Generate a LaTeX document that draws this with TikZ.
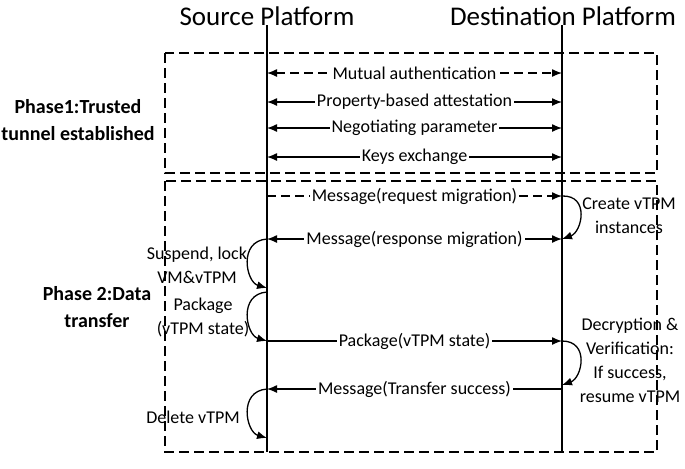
\documentclass[tikz,border=0pt]{standalone}
\usepackage{fontspec}
\setmainfont{Carlito}
\usetikzlibrary{arrows.meta}

\begin{document}
\begin{tikzpicture}[x=0.5pt, y=-0.5pt,
    lifeline/.style = {line width=1pt},
    msg/.style = {line width=0.65pt, -{Latex[length=5pt, width=4pt]}},
    twoway/.style = {msg, {Latex[length=5pt, width=4pt]}-{Latex[length=5pt, width=4pt]}},
    dashmsg/.style = {dash pattern=on 4.5pt off 2.5pt},
    lbl/.style = {fill=white, inner sep=1pt, font=\fontsize{9}{11}\selectfont},
    phasebox/.style = {line width=0.65pt, dash pattern=on 5pt off 2.5pt},
    title/.style = {anchor=base, font=\fontsize{13.5}{16}\selectfont},
    note/.style = {align=center, font=\fontsize{9}{12}\selectfont},
    phase/.style = {align=center, font=\fontsize{10}{13.5}\selectfont\bfseries}]
    \useasboundingbox (0,0) rectangle (685,468);

    % phase boxes
    \draw [phasebox] (165,53) rectangle (657,173);
    \draw [phasebox] (165,181) rectangle (657,452);

    % platforms and their lifelines
    \node [title] (src) at (267,25) {Source Platform};
    \node [title] (dst) at (563,25) {Destination Platform};
    \coordinate (srcEnd) at (267,452);
    \coordinate (dstEnd) at (562,452);
    \draw [lifeline] (src.base) -- (srcEnd);
    \draw [lifeline] (dst.base -| dstEnd) -- (dstEnd);

    \foreach \n/\y in {a/73, b/102, c/128, d/157, e/196, f/239, g/341, h/389} {
        \coordinate (s\n) at (267,\y);
        \coordinate (d\n) at (562,\y);
    }
    \coordinate (sf2) at (267,288);
    \coordinate (sg1) at (267,292);
    \coordinate (sh2) at (267,438);
    \coordinate (dh1) at (562,385);

    % trusted tunnel
    \draw [twoway, dashmsg] (sa) -- node [lbl] {Mutual authentication} (da);
    \draw [twoway] (sb) -- node [lbl] {Property-based attestation} (db);
    \draw [twoway] (sc) -- node [lbl] {Negotiating parameter} (dc);
    \draw [twoway] (sd) -- node [lbl] {Keys exchange} (dd);

    % data transfer
    \draw [msg, dashmsg] (se) -- node [lbl] {Message(request migration)} (de);
    \draw [twoway] (sf) -- node [lbl] {Message(response migration)} (df);
    \draw [msg] (sg) -- node [lbl] {Package(vTPM state)} (dg);
    \draw [msg] (dh) -- node [lbl] {Message(Transfer success)} (sh);

    % local steps
    \draw [msg] (de) .. controls (590,195) and (582,232) .. (df);
    \draw [msg] (sf) .. controls (238,241) and (246,282) .. (sf2);
    \draw [msg] (sg1) .. controls (238,294) and (246,335) .. (sg);
    \draw [msg] (dg) .. controls (590,341) and (582,378) .. (dh1);
    \draw [msg] (sh) .. controls (238,391) and (246,432) .. (sh2);

    \node [note] (create) at (629,216) {Create vTPM\\instances};
    \node [note] (suspend) at (197,265) {Suspend, lock\\VM\&vTPM};
    \node [note] (pack) at (203,317) {Package\\(vTPM state)};
    \node [note] (decrypt) at (630,360) {Decryption \&\\Verification:\\If success,\\resume vTPM};
    \node [note] (delete) at (193,417) {Delete vTPM};

    % annotations
    \node [phase] (ph1) at (78,120) {Phase1:Trusted\\tunnel established};
    \node [phase] (ph2) at (97,307) {Phase 2:Data\\transfer};
\end{tikzpicture}
\end{document}
